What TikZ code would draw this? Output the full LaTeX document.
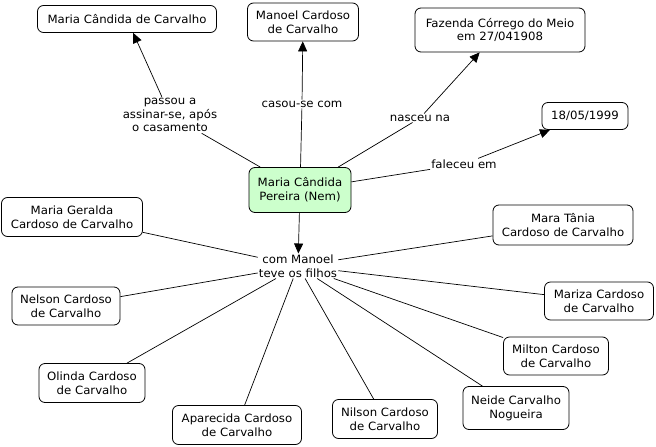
\documentclass[tikz,border=0pt]{standalone}
\usepackage{fontspec}
\setmainfont[FakeStretch=1.03]{DejaVu Sans}
\usetikzlibrary{arrows.meta}
\definecolor{nemgreen}{RGB}{204,255,204}
\begin{document}
\begin{tikzpicture}[x=1pt,y=-1pt,
  concept/.style 2 args={draw, rounded corners=6pt, align=center, font=\fontsize{11.4}{13.8}\selectfont, inner sep=1pt, minimum width=#1, minimum height=#2, fill=white, line width=0.8pt},
  linklab/.style={align=center, font=\fontsize{11.4}{13.8}\selectfont, inner sep=1pt},
  arr/.style={-{Triangle[length=10pt,width=9pt]}, line width=0.7pt},
  plain/.style={line width=0.7pt}]
\useasboundingbox[fill=white] (0,0) rectangle (656,447);
% concepts
\node[concept={102pt}{45pt}, fill=nemgreen] (nem) at (300,190) {Maria Cândida\\Pereira (Nem)};
\node[concept={179pt}{27pt}] (mcc) at (127,19) {Maria Cândida de Carvalho};
\node[concept={111pt}{38pt}] (man) at (303,22) {Manoel Cardoso\\de Carvalho};
\node[concept={170pt}{44pt}] (faz) at (500,30) {Fazenda Córrego do Meio\\em 27/041908};
\node[concept={86pt}{27pt}] (dat) at (585,116) {18/05/1999};
\node[concept={141pt}{39pt}] (mge) at (72,217) {Maria Geralda\\Cardoso de Carvalho};
\node[concept={108pt}{38pt}] (nel) at (66,306) {Nelson Cardoso\\de Carvalho};
\node[concept={106pt}{39pt}] (oli) at (92,383) {Olinda Cardoso\\de Carvalho};
\node[concept={129pt}{39pt}] (apa) at (237,425) {Aparecida Cardoso\\de Carvalho};
\node[concept={105pt}{39pt}] (nil) at (385,419) {Nilson Cardoso\\de Carvalho};
\node[concept={106pt}{43pt}] (nei) at (516,408) {Neide Carvalho\\Nogueira};
\node[concept={105pt}{38pt}] (mil) at (556,356) {Milton Cardoso\\de Carvalho};
\node[concept={109pt}{38pt}] (mar) at (599,301) {Mariza Cardoso\\de Carvalho};
\node[concept={140pt}{40pt}] (mta) at (563,225) {Mara Tânia\\Cardoso de Carvalho};
% link labels
\node[linklab] (l1) at (170,115) {passou a\\assinar-se, após\\o casamento};
\node[linklab] (l2) at (302,104) {casou-se com};
\node[linklab] (l3) at (420,118) {nasceu na};
\node[linklab] (l4) at (464,164) {faleceu em};
\node[linklab] (l5) at (298,266) {com Manoel\\teve os filhos};
% connectors
\draw[plain] (nem) -- (l1);
\draw[arr] (l1) -- (mcc);
\draw[plain] (nem) -- (l2);
\draw[arr] (l2) -- (man);
\draw[plain] (nem) -- (l3);
\draw[arr] (l3) -- (faz);
\draw[plain] (nem) -- (l4);
\draw[arr] (l4) -- (dat);
\draw[arr] (nem) -- (l5);
\foreach \c in {mge,nel,oli,apa,nil,nei,mil,mar,mta}
  \draw[plain] (l5) -- (\c);
\end{tikzpicture}
\end{document}
